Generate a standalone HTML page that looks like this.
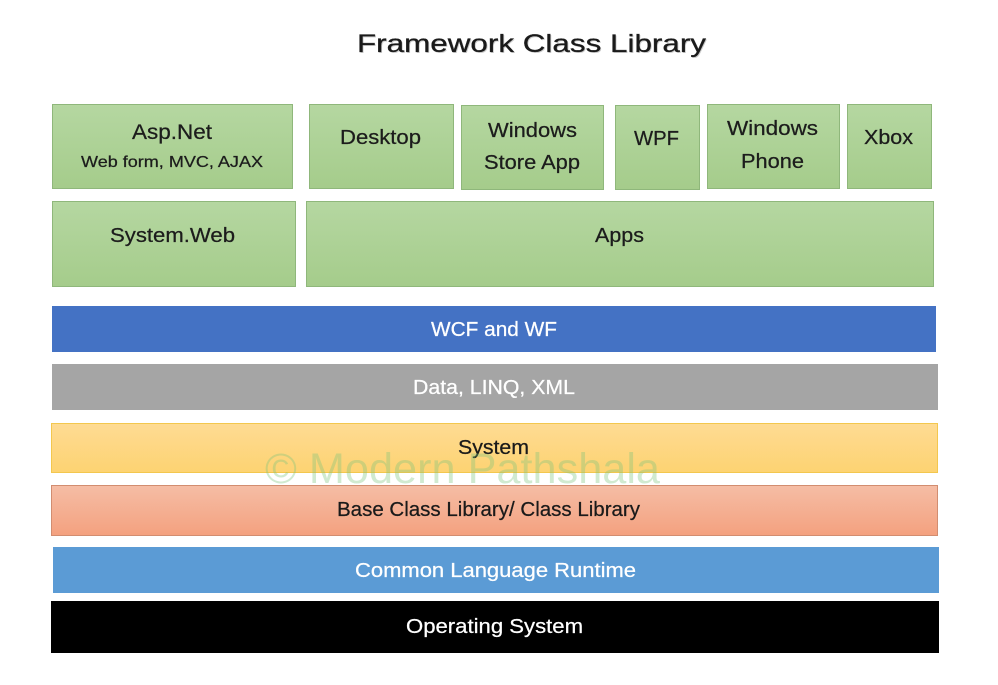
<!DOCTYPE html>
<html>
<head>
<meta charset="utf-8">
<style>
  html, body { margin:0; padding:0; background:#ffffff; }
  svg { display:block; }
  text { font-family: "Liberation Sans", Arial, sans-serif; }
</style>
</head>
<body>
<svg width="998" height="685" viewBox="0 0 998 685" xmlns="http://www.w3.org/2000/svg">
  <defs>
    <linearGradient id="g" x1="0" y1="0" x2="0" y2="1">
      <stop offset="0" stop-color="#b5d7a1"/>
      <stop offset="1" stop-color="#a5cc8b"/>
    </linearGradient>
    <linearGradient id="y" x1="0" y1="0" x2="0" y2="1">
      <stop offset="0" stop-color="#fedb93"/>
      <stop offset="1" stop-color="#fdd372"/>
    </linearGradient>
    <linearGradient id="o" x1="0" y1="0" x2="0" y2="1">
      <stop offset="0" stop-color="#f5bda5"/>
      <stop offset="1" stop-color="#f4a17f"/>
    </linearGradient>
  </defs>
  <rect width="998" height="685" fill="#ffffff"/>

  <!-- Title -->
  <text x="358" y="53" font-size="25" fill="#9a9a9a" opacity="0.5" textLength="349" lengthAdjust="spacingAndGlyphs">Framework Class Library</text>
  <text x="357" y="52" font-size="25" fill="#1a1a1a" stroke="#1a1a1a" stroke-width="0.3" textLength="349" lengthAdjust="spacingAndGlyphs">Framework Class Library</text>

  <!-- Green top row -->
  <g fill="url(#g)" stroke="#8fb77b" stroke-width="1">
    <rect x="52.5" y="104.5" width="240" height="84"/>
    <rect x="309.5" y="104.5" width="144" height="84"/>
    <rect x="461.5" y="105.5" width="142" height="84"/>
    <rect x="615.5" y="105.5" width="84" height="84"/>
    <rect x="707.5" y="104.5" width="132" height="84"/>
    <rect x="847.5" y="104.5" width="84" height="84"/>
    <rect x="52.5" y="201.5" width="243" height="85"/>
    <rect x="306.5" y="201.5" width="627" height="85"/>
  </g>

  <g fill="#1c1c1c" stroke="#1c1c1c" stroke-width="0.25">
    <text x="132" y="139" font-size="21" textLength="80" lengthAdjust="spacingAndGlyphs">Asp.Net</text>
    <text x="81" y="167" font-size="16" textLength="182" lengthAdjust="spacingAndGlyphs">Web form, MVC, AJAX</text>
    <text x="340" y="144" font-size="20.5" textLength="81" lengthAdjust="spacingAndGlyphs">Desktop</text>
    <text x="488" y="137" font-size="20" textLength="89" lengthAdjust="spacingAndGlyphs">Windows</text>
    <text x="484" y="169" font-size="20" textLength="96" lengthAdjust="spacingAndGlyphs">Store App</text>
    <text x="634" y="145" font-size="20" textLength="45" lengthAdjust="spacingAndGlyphs">WPF</text>
    <text x="727" y="135" font-size="20" textLength="91" lengthAdjust="spacingAndGlyphs">Windows</text>
    <text x="741" y="168" font-size="20" textLength="63" lengthAdjust="spacingAndGlyphs">Phone</text>
    <text x="864" y="144" font-size="20" textLength="49" lengthAdjust="spacingAndGlyphs">Xbox</text>
    <text x="110" y="242" font-size="20" textLength="125" lengthAdjust="spacingAndGlyphs">System.Web</text>
    <text x="595" y="242" font-size="20" textLength="49" lengthAdjust="spacingAndGlyphs">Apps</text>
  </g>

  <!-- Layers -->
  <rect x="52" y="306" width="884" height="46" fill="#4472c4"/>
  <rect x="52" y="364" width="886" height="46" fill="#a5a5a5"/>
  <rect x="51.5" y="423.5" width="886" height="49" fill="url(#y)" stroke="#f3c74e" stroke-width="1"/>
  <rect x="51.5" y="485.5" width="886" height="50" fill="url(#o)" stroke="#d28d70" stroke-width="1"/>
  <rect x="53" y="547" width="886" height="46" fill="#5b9bd5"/>
  <rect x="51" y="601" width="888" height="52" fill="#000000"/>

  <g stroke-width="0.25">
  <text x="431" y="336" font-size="20" fill="#ffffff" stroke="#ffffff" textLength="126" lengthAdjust="spacingAndGlyphs">WCF and WF</text>
  <text x="413" y="394" font-size="20" fill="#ffffff" stroke="#ffffff" textLength="162" lengthAdjust="spacingAndGlyphs">Data, LINQ, XML</text>
  <text x="458" y="454" font-size="20" fill="#1a1a1a" stroke="#1a1a1a" textLength="71" lengthAdjust="spacingAndGlyphs">System</text>
  <text x="337" y="516" font-size="20" fill="#1a1a1a" stroke="#1a1a1a" textLength="303" lengthAdjust="spacingAndGlyphs">Base Class Library/ Class Library</text>
  <text x="355" y="577" font-size="20" fill="#ffffff" stroke="#ffffff" textLength="281" lengthAdjust="spacingAndGlyphs">Common Language Runtime</text>
  <text x="406" y="633" font-size="20" fill="#ffffff" stroke="#ffffff" textLength="177" lengthAdjust="spacingAndGlyphs">Operating System</text>
  </g>

  <!-- Watermark -->
  <text x="265" y="483" font-size="43" fill="#7cc47c" opacity="0.35" textLength="395" lengthAdjust="spacingAndGlyphs">© Modern Pathshala</text>
</svg>
</body>
</html>
